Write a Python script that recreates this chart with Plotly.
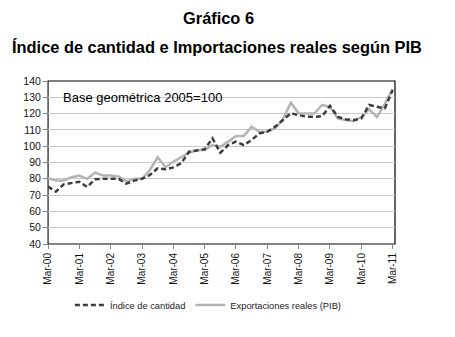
import plotly.graph_objects as go

years = ["00", "01", "02", "03", "04", "05", "06", "07", "08", "09", "10", "11"]
tick_labels = ["Mar-" + y for y in years]

# Quarterly series, Mar-00 .. Mar-11 (45 quarters)
indice_cantidad = [
    75.2, 72.1, 76.6, 77.2, 78.2, 75.0, 79.7, 80.0,
    80.0, 80.0, 77.0, 78.9, 80.0, 82.3, 86.4, 85.8,
    87.0, 89.5, 96.6, 97.2, 98.1, 104.8, 96.0, 100.7,
    102.8, 100.7, 103.8, 107.9, 108.9, 112.0, 116.0, 120.2,
    119.1, 118.1, 118.0, 118.5, 124.7, 118.0, 116.5, 116.0,
    117.0, 125.3, 124.2, 123.2, 134.5,
]
exportaciones_reales = [
    80.3, 78.9, 79.0, 81.0, 82.0, 80.0, 83.8, 82.0,
    82.0, 81.5, 78.4, 80.0, 80.0, 85.4, 93.2, 87.0,
    90.5, 93.0, 96.0, 97.7, 97.7, 100.7, 99.7, 102.8,
    106.3, 106.3, 112.0, 108.9, 108.9, 111.0, 116.5, 126.7,
    120.2, 120.0, 120.0, 125.3, 124.2, 117.0, 116.0, 115.5,
    117.9, 122.6, 117.9, 126.0, 135.0,
]

idx = list(range(len(indice_cantidad)))
tickvals = idx[::4]

fig = go.Figure()
fig.add_trace(go.Scatter(
    x=idx, y=exportaciones_reales, mode="lines",
    name="Exportaciones reales (PIB)",
    line=dict(color="#b4b4b4", width=2.5),
    legendrank=2,
))
fig.add_trace(go.Scatter(
    x=idx, y=indice_cantidad, mode="lines",
    name="Índice de cantidad",
    line=dict(color="#3c3c3c", width=2.5, dash="5px,3px"),
    legendrank=1,
))

font_main = "Liberation Sans, Arial, sans-serif"

fig.update_layout(
    width=455, height=337, autosize=False,
    margin=dict(l=48, r=60, t=81, b=93, autoexpand=False),
    paper_bgcolor="white", plot_bgcolor="white",
    font=dict(family=font_main, color="#000000"),
    showlegend=True,
    legend=dict(
        orientation="h", xref="container", yref="container",
        x=0.458, xanchor="center",
        y=1 - 305 / 337, yanchor="middle",
        font=dict(size=9.3, color="#222222"),
        itemwidth=30, tracegroupgap=0,
        bgcolor="rgba(0,0,0,0)",
    ),
    xaxis=dict(
        range=[0, 44.3], tickmode="array", tickvals=tickvals, ticktext=tick_labels,
        tickangle=-90, ticks="outside", ticklen=4, tickcolor="#868686",
        showline=True, linecolor="#868686", linewidth=1,
        showgrid=False, zeroline=False, automargin=False,
        tickfont=dict(size=10, color="#111111", family="Liberation Sans, Arial"),
    ),
    yaxis=dict(
        range=[40, 140], dtick=10, tick0=40,
        ticks="outside", ticklen=4, tickcolor="#868686",
        showline=True, linecolor="#868686", linewidth=1,
        showgrid=True, gridcolor="#c8c8c8", gridwidth=1, zeroline=False,
        automargin=False,
        tickfont=dict(size=10.5, color="#111111", family="Liberation Sans, Arial"),
    ),
    shapes=[dict(
        type="rect", xref="paper", yref="paper", x0=0, x1=1, y0=0, y1=1,
        line=dict(color="#000000", width=1.2), layer="below",
    )],
    annotations=[
        dict(text="<b>Gráfico 6</b>", xref="paper", yref="paper",
             x=(218 - 48) / 347, y=1 + (81 - 18) / 163, xanchor="center", yanchor="middle",
             showarrow=False, font=dict(size=16.4, family=font_main, color="#000000")),
        dict(text="<b>Índice de cantidad e Importaciones reales según PIB</b>",
             xref="paper", yref="paper",
             x=(217 - 48) / 347, y=1 + (81 - 47) / 163, xanchor="center", yanchor="middle",
             showarrow=False, font=dict(size=16.4, family=font_main, color="#000000")),
        dict(text="Base geométrica 2005=100", xref="paper", yref="paper",
             x=(61 - 48) / 347, y=1 - (97 - 81) / 163, xanchor="left", yanchor="middle",
             showarrow=False, font=dict(size=13, family=font_main, color="#000000")),
    ],
)

fig.write_html("out.html")
